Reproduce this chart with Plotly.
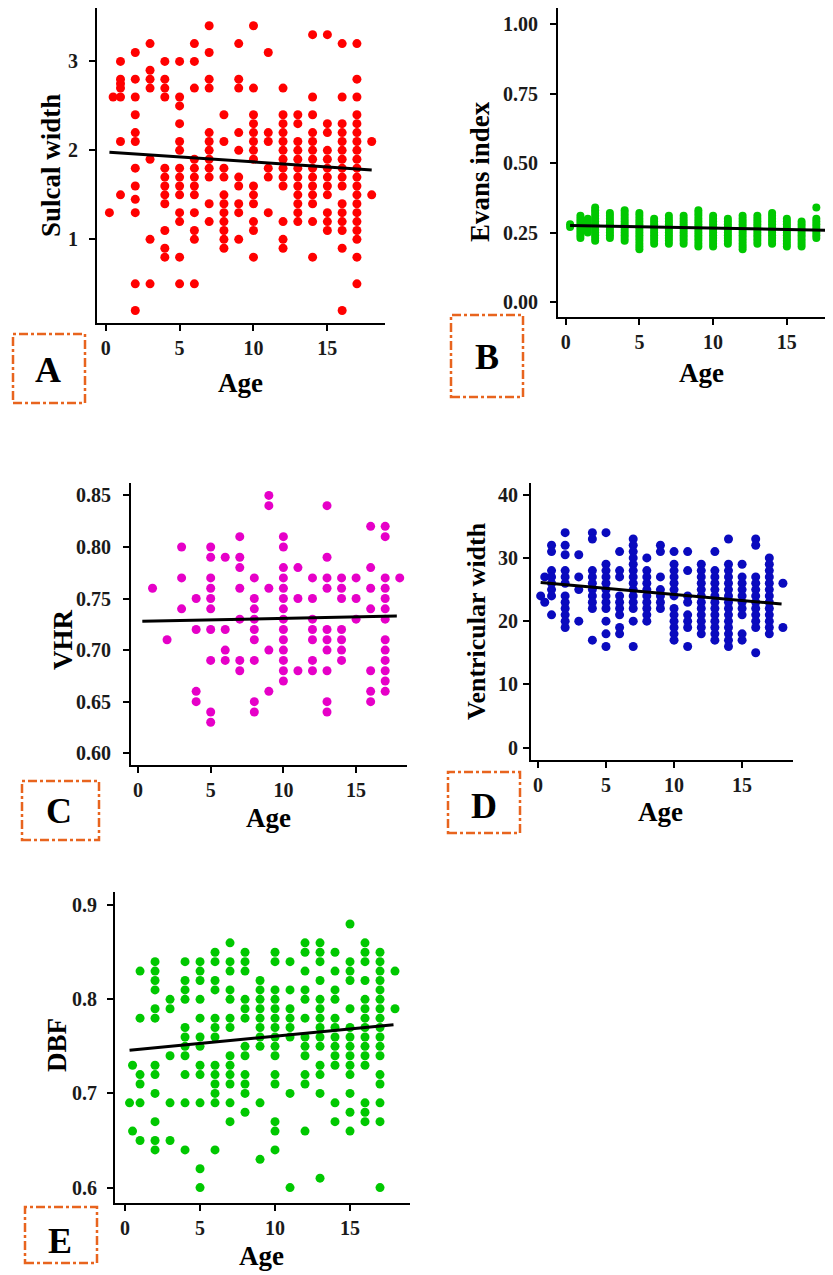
import plotly.graph_objects as go

W, H = 833, 1275
OFF = 8  # page body margin in the browser

# ---------------- data ----------------
# Panel A: Sulcal width vs Age
a_ages = [0.25, 0.5, 1, 2, 3, 4, 5, 6, 7, 8, 9, 10, 11, 12, 13, 14, 15, 16, 17, 18]
a_vals = [
    [1.3],
    [2.6],
    [3.0, 2.8, 2.75, 2.7, 2.6, 2.1, 1.5],
    [3.1, 2.8, 2.6, 2.4, 2.2, 2.1, 1.8, 1.6, 1.45, 1.3, 0.5, 0.2],
    [3.2, 2.9, 2.8, 2.7, 1.9, 1.0, 0.5],
    [3.0, 2.8, 2.7, 2.6, 1.8, 1.7, 1.6, 1.5, 1.4, 1.1, 0.9, 0.8],
    [3.0, 2.6, 2.5, 2.3, 2.1, 2.0, 1.8, 1.7, 1.6, 1.5, 1.3, 1.2, 0.8, 0.5],
    [3.2, 3.0, 2.7, 1.9, 1.8, 1.7, 1.6, 1.5, 1.3, 1.1, 1.0, 0.5],
    [3.4, 3.1, 2.8, 2.7, 2.2, 2.1, 2.0, 1.9, 1.8, 1.7, 1.4, 1.2],
    [2.4, 2.1, 1.8, 1.7, 1.5, 1.4, 1.3, 1.2, 1.1, 1.0, 0.9],
    [3.2, 2.8, 2.7, 2.2, 2.0, 1.7, 1.6, 1.4, 1.3, 1.0],
    [3.4, 2.7, 2.4, 2.3, 2.2, 2.1, 2.0, 1.9, 1.6, 1.5, 1.4, 1.2, 1.1, 0.8],
    [3.1, 2.2, 2.1, 1.8, 1.7, 1.3],
    [2.7, 2.4, 2.3, 2.2, 2.1, 2.0, 1.9, 1.8, 1.7, 1.6, 1.2, 1.0, 0.9],
    [2.4, 2.3, 2.1, 2.0, 1.9, 1.8, 1.7, 1.6, 1.5, 1.4, 1.3, 1.2],
    [3.3, 2.6, 2.4, 2.2, 2.1, 2.0, 1.9, 1.8, 1.7, 1.6, 1.5, 1.4, 1.2, 0.8],
    [3.3, 2.3, 2.2, 2.0, 1.9, 1.8, 1.7, 1.6, 1.5, 1.3, 1.2, 1.1],
    [3.2, 2.6, 2.3, 2.2, 2.1, 2.0, 1.9, 1.8, 1.7, 1.6, 1.4, 1.3, 1.2, 1.1, 0.9, 0.2],
    [3.2, 2.8, 2.6, 2.4, 2.3, 2.2, 2.1, 2.0, 1.9, 1.8, 1.7, 1.6, 1.5, 1.4, 1.3, 1.2, 1.1, 1.0, 0.8, 0.5],
    [2.1, 1.5],
]
a_trend_x = [0.25, 18.0]
a_trend_y = [1.98, 1.78]

# Panel B: Evans index vs Age
b_ages = [0.3, 1, 1.5, 2, 3, 4, 5, 6, 7, 8, 9, 10, 11, 12, 13, 14, 15, 16, 17, 18]
b_vals = [
    [0.28, 0.27],
    [0.31, 0.30, 0.29, 0.28, 0.27, 0.26, 0.25, 0.24, 0.23],
    [0.30, 0.29, 0.28, 0.27, 0.26, 0.25],
    [0.34, 0.33, 0.32, 0.31, 0.30, 0.29, 0.28, 0.27, 0.26, 0.25, 0.24, 0.23, 0.22],
    [0.32, 0.31, 0.30, 0.29, 0.28, 0.27, 0.26, 0.25, 0.24, 0.23],
    [0.33, 0.32, 0.31, 0.30, 0.29, 0.28, 0.27, 0.26, 0.25, 0.24, 0.23, 0.22],
    [0.32, 0.31, 0.30, 0.29, 0.28, 0.27, 0.26, 0.25, 0.24, 0.23, 0.22, 0.21, 0.20, 0.19],
    [0.30, 0.29, 0.28, 0.27, 0.26, 0.25, 0.24, 0.23, 0.22, 0.21],
    [0.31, 0.30, 0.29, 0.28, 0.27, 0.26, 0.25, 0.24, 0.23, 0.22, 0.21],
    [0.31, 0.30, 0.29, 0.28, 0.27, 0.26, 0.25, 0.24, 0.23, 0.22, 0.21],
    [0.33, 0.32, 0.31, 0.30, 0.29, 0.28, 0.27, 0.26, 0.25, 0.24, 0.23, 0.22, 0.21, 0.20],
    [0.31, 0.30, 0.29, 0.28, 0.27, 0.26, 0.25, 0.24, 0.23, 0.22, 0.21, 0.20],
    [0.30, 0.29, 0.28, 0.27, 0.26, 0.25, 0.24, 0.23, 0.22, 0.21],
    [0.31, 0.30, 0.29, 0.28, 0.27, 0.26, 0.25, 0.24, 0.23, 0.22, 0.21, 0.20, 0.19],
    [0.31, 0.30, 0.29, 0.28, 0.27, 0.26, 0.25, 0.24, 0.23, 0.22, 0.21],
    [0.32, 0.31, 0.30, 0.29, 0.28, 0.27, 0.26, 0.25, 0.24, 0.23, 0.22, 0.21],
    [0.30, 0.29, 0.28, 0.27, 0.26, 0.25, 0.24, 0.23, 0.22, 0.21, 0.20],
    [0.29, 0.28, 0.27, 0.26, 0.25, 0.24, 0.23, 0.22, 0.21, 0.20],
    [0.34, 0.30, 0.29, 0.28, 0.27, 0.26, 0.25, 0.24, 0.23],
    [0.26, 0.22],
]
b_trend_x = [0.3, 18.0]
b_trend_y = [0.275, 0.258]

# Panel C: VHR vs Age
c_ages = [1, 2, 3, 4, 5, 6, 7, 8, 9, 10, 11, 12, 13, 14, 15, 16, 17, 18]
c_vals = [
    [0.76],
    [0.71],
    [0.80, 0.77, 0.74],
    [0.75, 0.72, 0.66, 0.65],
    [0.80, 0.79, 0.77, 0.76, 0.75, 0.74, 0.72, 0.69, 0.64, 0.63],
    [0.79, 0.72, 0.70, 0.69],
    [0.81, 0.79, 0.78, 0.76, 0.73, 0.69, 0.68],
    [0.77, 0.75, 0.74, 0.73, 0.72, 0.71, 0.69, 0.65, 0.64],
    [0.85, 0.84, 0.76, 0.70, 0.66],
    [0.81, 0.80, 0.78, 0.77, 0.76, 0.75, 0.74, 0.73, 0.72, 0.71, 0.70, 0.69, 0.68, 0.67],
    [0.78, 0.75, 0.68],
    [0.77, 0.75, 0.73, 0.72, 0.71, 0.69, 0.68],
    [0.84, 0.79, 0.77, 0.76, 0.72, 0.71, 0.70, 0.68, 0.65, 0.64],
    [0.77, 0.76, 0.75, 0.72, 0.71, 0.70, 0.69],
    [0.77, 0.75, 0.73],
    [0.82, 0.78, 0.76, 0.74, 0.68, 0.66, 0.65],
    [0.82, 0.81, 0.77, 0.76, 0.75, 0.74, 0.73, 0.71, 0.70, 0.69, 0.68, 0.67, 0.66],
    [0.77],
]
c_trend_x = [0.3, 17.8]
c_trend_y = [0.728, 0.733]

# Panel D: Ventricular width vs Age
d_ages = [0.2, 0.5, 1, 2, 3, 4, 5, 6, 7, 8, 9, 10, 11, 12, 13, 14, 15, 16, 17, 18]
d_vals = [
    [24],
    [27, 23],
    [32, 31, 28, 27, 26, 25, 24, 21],
    [34, 32, 30.5, 28, 27, 26, 24, 23, 22, 21, 20, 19],
    [30.5, 27, 25, 20],
    [34, 33, 28, 27, 26, 25, 24, 23, 22, 17],
    [34, 29, 28, 27, 26, 25, 24, 23, 22, 20, 18, 16],
    [31, 28, 27, 24, 23, 22, 21, 19, 18],
    [33, 32, 31, 30, 29, 28, 27, 26, 25, 24, 23, 22, 20, 16],
    [30, 28, 27, 26, 25, 24, 23, 22, 21, 20],
    [32, 31, 27, 25, 24, 23, 22],
    [31, 29, 28, 27, 26, 25, 24, 22, 21, 20, 19, 18, 17],
    [31, 28, 24, 23, 21, 20, 19, 16],
    [29, 28, 27, 26, 25, 24, 23, 22, 21, 20, 19, 18],
    [31, 28, 27, 26, 25, 24, 23, 22, 21, 20, 19, 18, 17],
    [33, 29, 28, 27, 26, 25, 24, 23, 22, 21, 20, 19, 18, 17, 16],
    [29, 27, 26, 25, 24, 23, 22, 21, 18, 17],
    [33, 32, 27, 26, 25, 24, 23, 22, 21, 20, 19, 15],
    [30, 29, 28, 27, 26, 25, 24, 23, 22, 21, 20, 19, 18],
    [26, 19],
]
d_trend_x = [0.2, 17.9]
d_trend_y = [26.1, 22.7]

# Panel E: DBF vs Age
e_ages = [0.3, 0.5, 1, 2, 3, 4, 5, 6, 7, 8, 9, 10, 11, 12, 13, 14, 15, 16, 17, 18]
e_vals = [
    [0.69],
    [0.73, 0.66],
    [0.83, 0.78, 0.72, 0.71, 0.69, 0.65],
    [0.84, 0.83, 0.82, 0.81, 0.79, 0.78, 0.73, 0.72, 0.70, 0.67, 0.65, 0.64],
    [0.80, 0.79, 0.74, 0.69, 0.65],
    [0.84, 0.82, 0.81, 0.80, 0.77, 0.76, 0.75, 0.74, 0.72, 0.69, 0.64],
    [0.84, 0.83, 0.82, 0.80, 0.78, 0.76, 0.75, 0.73, 0.72, 0.69, 0.62, 0.60],
    [0.85, 0.84, 0.82, 0.81, 0.78, 0.77, 0.76, 0.73, 0.72, 0.71, 0.70, 0.69, 0.64],
    [0.86, 0.84, 0.83, 0.81, 0.80, 0.78, 0.77, 0.74, 0.73, 0.72, 0.71, 0.69, 0.67],
    [0.85, 0.84, 0.83, 0.80, 0.79, 0.78, 0.75, 0.74, 0.72, 0.71, 0.70, 0.68],
    [0.82, 0.81, 0.80, 0.79, 0.78, 0.77, 0.76, 0.75, 0.69, 0.63],
    [0.85, 0.84, 0.81, 0.80, 0.79, 0.78, 0.77, 0.76, 0.75, 0.74, 0.72, 0.71, 0.67, 0.66, 0.64],
    [0.84, 0.81, 0.79, 0.78, 0.77, 0.76, 0.70, 0.60],
    [0.86, 0.85, 0.83, 0.81, 0.80, 0.78, 0.76, 0.75, 0.74, 0.72, 0.71, 0.66],
    [0.86, 0.85, 0.84, 0.82, 0.80, 0.79, 0.78, 0.77, 0.76, 0.75, 0.73, 0.72, 0.70, 0.61],
    [0.85, 0.83, 0.81, 0.80, 0.78, 0.77, 0.76, 0.75, 0.74, 0.73, 0.69, 0.67],
    [0.88, 0.84, 0.83, 0.82, 0.79, 0.77, 0.76, 0.75, 0.74, 0.73, 0.72, 0.70, 0.68, 0.66],
    [0.86, 0.85, 0.84, 0.82, 0.80, 0.79, 0.78, 0.77, 0.76, 0.75, 0.74, 0.73, 0.69, 0.68, 0.67],
    [0.85, 0.84, 0.83, 0.82, 0.81, 0.80, 0.79, 0.78, 0.77, 0.76, 0.75, 0.74, 0.72, 0.71, 0.69, 0.67, 0.60],
    [0.83, 0.79],
]
e_trend_x = [0.3, 17.9]
e_trend_y = [0.746, 0.773]

x_ticks = [0, 5, 10, 15]
y_titles = ["Sulcal width", "Evans index", "VHR", "Ventricular width", "DBF"]
panel_letters = ["A", "B", "C", "D", "E"]


def flat(ages, vals):
    xs, ys = [], []
    for a, vs in zip(ages, vals):
        for v in vs:
            xs.append(a)
            ys.append(v)
    return xs, ys


def px_x(p):
    return (p - OFF) / W


def px_y(p):
    return 1 - (p - OFF) / H


SERIF = "Liberation Serif"
BOLD = "bold"

panels = [
    dict(data=(a_ages, a_vals), trend=(a_trend_x, a_trend_y), color="#FF0000", size=9,
         xdom=(97, 385), ydom=(8, 323), xr=(-0.59, 18.9), yr=(0.06, 3.6),
         yticks=[1, 2, 3], yfmt="d", ystand=7,
         ytitle=(51, 166, 27), xtitle=(240, 383),
         box=(13, 334, 85, 403), letter=(48, 370)),
    dict(data=(b_ages, b_vals), trend=(b_trend_x, b_trend_y), color="#00C800", size=8,
         xdom=(558, 833), ydom=(8, 317), xr=(-0.52, 18.13), yr=(-0.054, 1.058),
         yticks=[0, 0.25, 0.5, 0.75, 1.0], yfmt=".2f", ystand=8,
         ytitle=(480, 172, 27), xtitle=(701, 373),
         box=(451, 315, 523, 397), letter=(487, 357)),
    dict(data=(c_ages, c_vals), trend=(c_trend_x, c_trend_y), color="#E600C8", size=9,
         xdom=(131, 407), ydom=(483, 765), xr=(-0.48, 18.5), yr=(0.5886, 0.862),
         yticks=[0.60, 0.65, 0.70, 0.75, 0.80, 0.85], yfmt=".2f", ystand=8,
         ytitle=(63, 640, 27), xtitle=(268, 818),
         box=(22, 781, 99, 840), letter=(59, 811)),
    dict(data=(d_ages, d_vals), trend=(d_trend_x, d_trend_y), color="#0A0ABE", size=9,
         xdom=(531, 793), ydom=(483, 760), xr=(-0.51, 18.74), yr=(-1.95, 41.85),
         yticks=[0, 10, 20, 30, 40], yfmt="d", ystand=1,
         ytitle=(477, 621, 26), xtitle=(660, 812),
         box=(448, 772, 520, 833), letter=(484, 806)),
    dict(data=(e_ages, e_vals), trend=(e_trend_x, e_trend_y), color="#00C800", size=9,
         xdom=(115, 410), ydom=(892, 1203), xr=(-0.67, 19.0), yr=(0.5836, 0.914),
         yticks=[0.6, 0.7, 0.8, 0.9], yfmt=".1f", ystand=6,
         ytitle=(57, 1045, 27), xtitle=(262, 1256),
         box=(25, 1207, 97, 1263), letter=(60, 1241)),
]

fig = go.Figure()
layout = dict(
    width=W, height=H, margin=dict(l=0, r=0, t=0, b=0),
    paper_bgcolor="white", plot_bgcolor="white", showlegend=False,
)
annotations = []
shapes = []

tickfont = dict(family=SERIF, size=20, color="#1a1a1a", weight=BOLD)

for i, p in enumerate(panels):
    n = i + 1
    xa = "x" if n == 1 else f"x{n}"
    ya = "y" if n == 1 else f"y{n}"
    xs, ys = flat(*p["data"])
    fig.add_trace(go.Scatter(x=xs, y=ys, mode="markers", xaxis=xa, yaxis=ya,
                             marker=dict(color=p["color"], size=p["size"], line=dict(width=0))))
    tx, ty = p["trend"]
    fig.add_trace(go.Scatter(x=tx, y=ty, mode="lines", xaxis=xa, yaxis=ya,
                             line=dict(color="black", width=3)))
    axcommon = dict(showgrid=False, zeroline=False, showline=True, linecolor="black",
                    linewidth=2, ticks="outside", ticklen=6, tickwidth=2,
                    tickcolor="black", tickfont=tickfont)
    layout["xaxis" if n == 1 else f"xaxis{n}"] = dict(
        domain=[px_x(p["xdom"][0]), min(1.0, px_x(p["xdom"][1]))], range=list(p["xr"]),
        anchor=ya, tickvals=x_ticks, **axcommon)
    layout["yaxis" if n == 1 else f"yaxis{n}"] = dict(
        domain=[px_y(p["ydom"][1]), min(1.0, px_y(p["ydom"][0]))], range=list(p["yr"]),
        anchor=xa, tickvals=p["yticks"], tickformat=p["yfmt"], ticklabelstandoff=p["ystand"],
        **axcommon)
    # axis titles
    yx, yy, ys_ = p["ytitle"]
    annotations.append(dict(text=y_titles[i], x=px_x(yx), y=px_y(yy), xref="paper", yref="paper",
                            textangle=-90, showarrow=False, xanchor="center", yanchor="middle",
                            font=dict(family=SERIF, size=ys_, color="black", weight=BOLD)))
    annotations.append(dict(text="Age", x=px_x(p["xtitle"][0]), y=px_y(p["xtitle"][1]),
                            xref="paper", yref="paper", showarrow=False,
                            xanchor="center", yanchor="middle",
                            font=dict(family=SERIF, size=27, color="black", weight=BOLD)))
    # panel label box
    bx0, by0, bx1, by1 = p["box"]
    shapes.append(dict(type="rect", xref="paper", yref="paper",
                       x0=px_x(bx0), x1=px_x(bx1), y0=px_y(by1), y1=px_y(by0),
                       line=dict(color="#E8641E", width=2.5, dash="dashdot")))
    annotations.append(dict(text=panel_letters[i], x=px_x(p["letter"][0]), y=px_y(p["letter"][1]),
                            xref="paper", yref="paper", showarrow=False,
                            xanchor="center", yanchor="middle",
                            font=dict(family=SERIF, size=36, color="black", weight=BOLD)))

layout["annotations"] = annotations
layout["shapes"] = shapes
fig.update_layout(**layout)
fig.write_html("out.html")
